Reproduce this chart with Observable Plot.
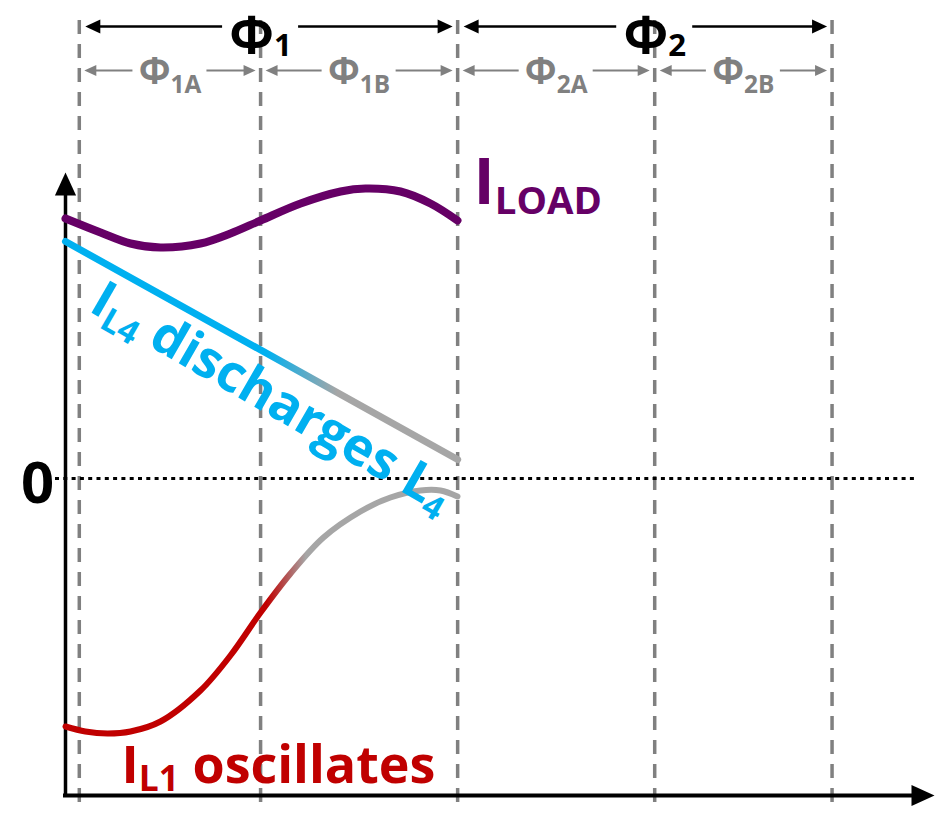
<!DOCTYPE html>
<html><head><meta charset="utf-8">
<script src="https://cdn.jsdelivr.net/npm/d3@7"></script>
<script src="https://cdn.jsdelivr.net/npm/@observablehq/plot@0.6"></script>
<style>html,body{margin:0;padding:0;background:#fff;} svg{display:block}</style>
</head><body><div id="chart"></div>
<script>
// ---- data ----
const phaseBounds = [0.07, 0.99, 1.99, 2.99, 3.89];
const phaseNames = ["Φ_{1}", "Φ_{2}"];
const subPhaseNames = ["Φ_{1A}", "Φ_{1B}", "Φ_{2A}", "Φ_{2B}"];

const loadT = [0, 0.178, 0.330, 0.482, 0.685, 0.837, 0.990, 1.193, 1.396, 1.522, 1.700, 1.852, 1.989];
const loadI = [2.60, 2.46, 2.35, 2.31, 2.35, 2.45, 2.58, 2.75, 2.87, 2.90, 2.87, 2.75, 2.58];
const l4T = [0, 1.99];
const l4I = [2.37, 0.19];
const l1T = [0, 0.101, 0.213, 0.330, 0.482, 0.685, 0.837, 0.990, 1.142, 1.309, 1.497, 1.649, 1.801, 1.903, 1.989];
const l1I = [-2.48, -2.53, -2.55, -2.53, -2.43, -2.12, -1.77, -1.34, -0.95, -0.59, -0.33, -0.19, -0.12, -0.12, -0.18];

const zeroLabel = "0";
const seriesLabels = ["I_{LOAD}", "I_{L4} discharges L_{4}", "I_{L1} oscillates"];

// ---- layout ----
const W = 936, H = 832, ML = 65;
const xMax = 4.42, yMin = -3.54, yMax = 4.78;
const ux = (W - ML) / xMax, uy = H / (yMax - yMin);
const px = v => v / ux, py = v => v / uy;
const axisY = -3.17, yTip = 3.06, xTip = 4.41;
const mainY = 4.52, subY = 4.08;
const colors = {load: "#660066", l4: "#00B0F0", l1: "#C00000", fade: "#A6A6A6", dash: "#808080"};

const arrowHead = {
  draw(ctx, size) {
    const L = Math.sqrt(size / Math.PI), w = 0.46 * L;
    ctx.moveTo(0, 0); ctx.lineTo(-w, L); ctx.lineTo(w, L); ctx.closePath();
  }
};

const mainSegs = [], mainHeads = [], mainLabels = [];
phaseNames.forEach((name, k) => {
  const a = phaseBounds[2 * k], c = phaseBounds[2 * k + 1], b = phaseBounds[2 * k + 2];
  const s = a + px(6), e = b - px(5), g = px(38);
  mainSegs.push({x1: s + px(8), x2: c - g}, {x1: c + g, x2: e - px(8)});
  mainHeads.push({x: s, rot: -90}, {x: e, rot: 90});
  mainLabels.push({x: c, text: name});
});
const subSegs = [], subHeads = [], subLabels = [];
subPhaseNames.forEach((name, k) => {
  const a = phaseBounds[k], b = phaseBounds[k + 1], c = (a + b) / 2;
  const s = a + px(5), e = b - px(5), g = px(37);
  subSegs.push({x1: s + px(6), x2: c - g}, {x1: c + g, x2: e - px(6)});
  subHeads.push({x: s, rot: -90}, {x: e, rot: 90});
  subLabels.push({x: c, text: name});
});

const toRows = (T, V) => T.map((t, i) => ({t, v: V[i]}));
const font = "'Open Sans', 'DejaVu Sans', sans-serif";

const chart = Plot.plot({
  width: W, height: H,
  marginLeft: ML, marginRight: 0, marginTop: 0, marginBottom: 0,
  x: {domain: [0, xMax], range: [ML, W], axis: null},
  y: {domain: [yMin, yMax], range: [H, 0], axis: null},
  style: {fontFamily: font, background: "#fff", overflow: "visible"},
  marks: [
    Plot.ruleX(phaseBounds, {y1: yMax - py(20), y2: axisY - py(10), stroke: colors.dash, strokeWidth: 3.5, strokeDasharray: "14,10"}),
    Plot.ruleY([0], {x1: -px(10), x2: xTip - px(19), stroke: "#000", strokeWidth: 3, strokeDasharray: "4,4.3"}),
    Plot.ruleX([0], {y1: axisY - py(2), y2: yTip - py(12), stroke: "#000", strokeWidth: 3.5}),
    Plot.ruleY([axisY], {x1: -px(2), x2: xTip - px(12), stroke: "#000", strokeWidth: 4}),
    Plot.dot([{x: 0, y: yTip, rot: 0}, {x: xTip, y: axisY, rot: 90}], {x: "x", y: "y", rotate: "rot", r: 23, symbol: arrowHead, fill: "#000", stroke: "none"}),
    Plot.ruleY(mainSegs, {y: mainY, x1: "x1", x2: "x2", stroke: "#000", strokeWidth: 2.5}),
    Plot.dot(mainHeads, {x: "x", y: mainY, rotate: "rot", r: 15, symbol: arrowHead, fill: "#000", stroke: "none"}),
    Plot.ruleY(subSegs, {y: subY, x1: "x1", x2: "x2", stroke: colors.dash, strokeWidth: 2}),
    Plot.dot(subHeads, {x: "x", y: subY, rotate: "rot", r: 12, symbol: arrowHead, fill: colors.dash, stroke: "none"}),
    Plot.text(mainLabels, {x: "x", y: (478 - 52) / 100, text: "text", textAnchor: "middle", lineAnchor: "bottom", fontSize: 52, fontWeight: "bold", fill: "#000", ariaDescription: "lbl-main"}),
    Plot.text(subLabels, {x: "x", y: (478 - 83) / 100, text: "text", textAnchor: "middle", lineAnchor: "bottom", fontSize: 37, fontWeight: "bold", fill: colors.dash, ariaDescription: "lbl-sub"}),
    Plot.line(toRows(loadT, loadI), {x: "t", y: "v", curve: "catmull-rom", stroke: colors.load, strokeWidth: 8, strokeLinecap: "round", ariaDescription: "c-load"}),
    Plot.line(toRows(l4T, l4I), {x: "t", y: "v", stroke: colors.l4, strokeWidth: 7, strokeLinecap: "round", ariaDescription: "c-l4"}),
    Plot.line(toRows(l1T, l1I), {x: "t", y: "v", curve: "catmull-rom", stroke: colors.l1, strokeWidth: 6, strokeLinecap: "round", ariaDescription: "c-l1"}),
    Plot.text([zeroLabel], {x: -px(28), y: (478 - 502) / 100, text: d => d, textAnchor: "middle", lineAnchor: "bottom", fontSize: 58, fontWeight: "bold", fill: "#000"}),
    Plot.text([seriesLabels[0]], {x: (473 - 65) / ux, y: (478 - 203) / 100, text: d => d, textAnchor: "start", lineAnchor: "bottom", fontSize: 64, fontWeight: "bold", fill: colors.load, ariaDescription: "lbl-load"}),
    Plot.text([seriesLabels[1]], {x: (87 - 65) / ux, y: (478 - 310) / 100, text: d => d, rotate: 30, textAnchor: "start", lineAnchor: "bottom", fontSize: 52, fontWeight: "bold", fill: colors.l4, ariaDescription: "lbl-l4"}),
    Plot.text([seriesLabels[2]], {x: (121 - 65) / ux, y: (478 - 782) / 100, text: d => d, textAnchor: "start", lineAnchor: "bottom", fontSize: 52, fontWeight: "bold", fill: colors.l1, ariaDescription: "lbl-l1"})
  ]
});
document.getElementById("chart").appendChild(chart);

function richText(label, subScale, shiftEm) {
  d3.select(chart).selectAll(`g[aria-description="${label}"] text`).each(function () {
    const el = d3.select(this);
    const s = el.text();
    const fs = parseFloat(getComputedStyle(this).fontSize);
    el.text(null);
    const parts = s.split(/(_\{[^}]*\})/).filter(p => p);
    let shifted = false;
    for (const p of parts) {
      const m = p.match(/^_\{(.*)\}$/);
      const ts = el.append("tspan");
      if (m) {
        ts.text(m[1]).attr("font-size", fs * subScale);
        if (!shifted) ts.attr("dy", fs * shiftEm);
        shifted = true;
      } else {
        ts.text(p);
        if (shifted) { ts.attr("dy", -fs * shiftEm); shifted = false; }
      }
    }
  });
}
richText("lbl-main", 0.6, 0.07);
richText("lbl-sub", 0.66, 0.26);
richText("lbl-load", 0.6, 0.16);
richText("lbl-l4", 0.64, 0.17);
richText("lbl-l1", 0.68, 0.17);

const sx = chart.scale("x");
const defs = d3.select(chart).insert("defs", ":first-child");
function grad(id, t0, t1, c0, c1) {
  const g = defs.append("linearGradient").attr("id", id).attr("gradientUnits", "userSpaceOnUse")
    .attr("x1", sx.apply(t0)).attr("x2", sx.apply(t1)).attr("y1", 0).attr("y2", 0);
  g.append("stop").attr("offset", 0).attr("stop-color", c0);
  g.append("stop").attr("offset", 1).attr("stop-color", c1);
}
grad("fadeL4", 1.02, 1.38, colors.l4, colors.fade);
grad("fadeL1", 1.02, 1.22, colors.l1, colors.fade);
d3.select(chart).selectAll('g[aria-description="c-l4"], g[aria-description="c-l4"] path').attr("stroke", "url(#fadeL4)");
d3.select(chart).selectAll('g[aria-description="c-l1"], g[aria-description="c-l1"] path').attr("stroke", "url(#fadeL1)");
</script>
</body></html>
